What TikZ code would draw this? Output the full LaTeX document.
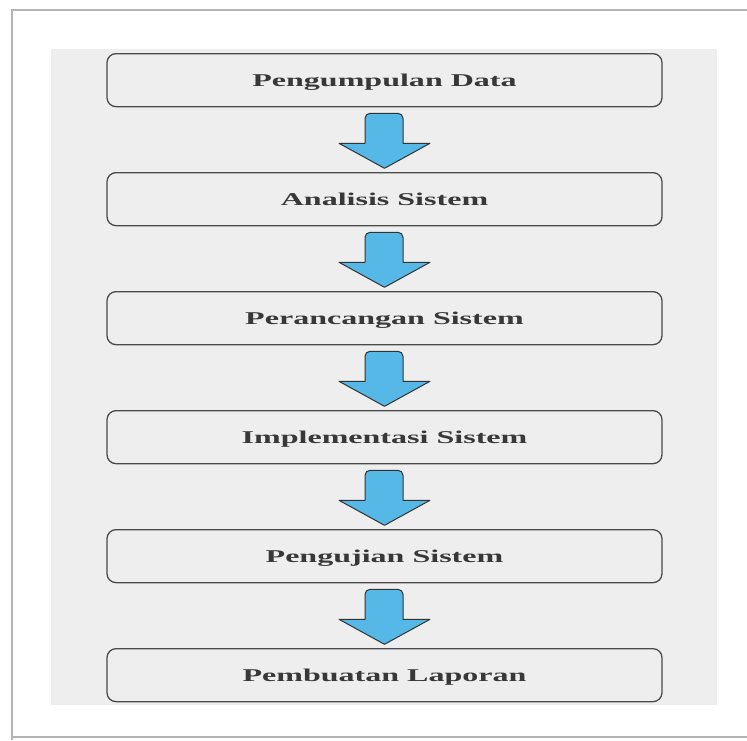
\documentclass[tikz,border=0pt]{standalone}
\usepackage{fontspec}
\setmainfont{Liberation Serif}
\usetikzlibrary{calc}
\definecolor{panelgray}{HTML}{EEEEEE}
\definecolor{framegray}{HTML}{B4B4B4}
\definecolor{boxline}{HTML}{4A4A4A}
\definecolor{arrowblue}{HTML}{56B8E6}
\definecolor{arrowline}{HTML}{333333}
\tikzset{
  stepbox/.style={draw=boxline, line width=1.3pt, fill=panelgray, rounded corners=9pt,
    minimum width=555pt, minimum height=53pt, inner sep=0pt, anchor=north,
    text height=12pt, text depth=0pt,
    font=\fontsize{18}{20}\selectfont\bfseries, text=black!78},
  downarrow/.style={fill=arrowblue, draw=arrowline, line width=1pt, line join=round},
  frameline/.style={draw=framegray, line width=2pt}
}
\newcommand{\wide}[1]{\scalebox{1.78}[1]{#1}}
\begin{document}
\begin{tikzpicture}[x=1pt,y=-1pt]
\useasboundingbox (0,0) rectangle (747,740);
\fill[white] (0,0) rectangle (747,740);
% outer frame
\draw[frameline] (12,740) -- (12,10) -- (747,10);
\draw[frameline] (12,737) -- (747,737);
% gray panel
\fill[panelgray] (51,49) rectangle (717,705);
% boxes
\node[stepbox] (b1) at (384.5,53)  {\wide{Pengumpulan Data}};
\node[stepbox] (b2) at (384.5,172) {\wide{Analisis Sistem}};
\node[stepbox] (b3) at (384.5,291) {\wide{Perancangan Sistem}};
\node[stepbox] (b4) at (384.5,410) {\wide{Implementasi Sistem}};
\node[stepbox] (b5) at (384.5,529) {\wide{Pengujian Sistem}};
\node[stepbox] (b6) at (384.5,648) {\wide{Pembuatan Laporan}};
% block arrows
\foreach \i in {1,...,5}{
  \begin{scope}[shift={(b\i.south)}]
    \draw[downarrow] (-45.5,36) -- (-19.5,36)
      {[rounded corners=5pt] -- (-19.5,6) -- (18.5,6)} -- (18.5,36) -- (45.5,36) -- (0,61) -- cycle;
  \end{scope}
}
\end{tikzpicture}
\end{document}
